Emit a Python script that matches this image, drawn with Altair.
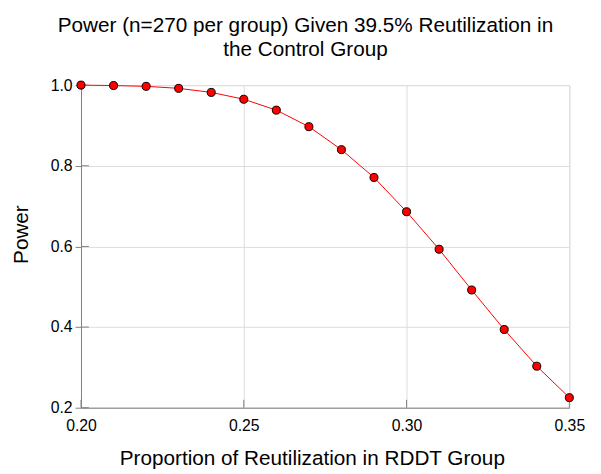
import altair as alt
import pandas as pd

proportion = [0.20, 0.21, 0.22, 0.23, 0.24, 0.25, 0.26, 0.27, 0.28, 0.29, 0.30, 0.31, 0.32, 0.33, 0.34, 0.35]
power = [1.000, 0.999, 0.997, 0.992, 0.982, 0.965, 0.938, 0.897, 0.840, 0.771, 0.686, 0.593, 0.492, 0.394, 0.303, 0.225]
x_ticks = [0.20, 0.25, 0.30, 0.35]
y_ticks = [0.2, 0.4, 0.6, 0.8, 1.0]

df = pd.DataFrame({"p": proportion, "power": power})
xt = pd.DataFrame({"p": x_ticks})
yt = pd.DataFrame({"power": y_ticks})

FONT = "Liberation Sans"
W, H = 495, 327

xscale = alt.Scale(domain=[0.2, 0.35], nice=False, zero=False)
yscale = alt.Scale(domain=[0.2, 1.0], nice=False, zero=False)

x = alt.X("p:Q", scale=xscale,
          axis=alt.Axis(title="Proportion of Reutilization in RDDT Group",
                        values=x_ticks, format=".2f", ticks=False, labelFlush=False,
                        titleX=234, titleY=52, titleBaseline="middle", titleAlign="center",
                        titleFontSize=21, titleFontWeight="normal", titleFont=FONT, titleColor="black",
                        labelFont=FONT, labelFontSize=16, labelColor="black",
                        domainColor="#808080", gridColor="#dcdcdc", labelPadding=10))
y = alt.Y("power:Q", scale=yscale,
          axis=alt.Axis(title="Power", values=y_ticks, format=".1f", labelFlush=False,
                        titleX=-60, titleY=151, titleAngle=-90, titleBaseline="middle", titleAlign="center",
                        titleFontSize=21, titleFontWeight="normal", titleFont=FONT, titleColor="black",
                        labelFont=FONT, labelFontSize=16, labelColor="black",
                        domainColor="#808080", tickColor="#808080", tickSize=6,
                        gridColor="#dcdcdc", labelPadding=3))

line = alt.Chart(df).mark_line(color="red", strokeWidth=1, clip=False).encode(x=x, y=y)
xtick_in = alt.Chart(xt).mark_rule(color="#808080", strokeWidth=1).encode(
    x=x, y=alt.value(H - 8), y2=alt.value(H))
ytick_in = alt.Chart(yt).mark_rule(color="#808080", strokeWidth=1).encode(
    y=y, x=alt.value(0), x2=alt.value(8))
pts = alt.Chart(df).mark_point(filled=True, fill="red", stroke="black", strokeWidth=1,
                               size=66, opacity=1, clip=False).encode(x=x, y=y)

chart = alt.layer(line, xtick_in, ytick_in, pts).properties(
    width=W, height=H,
    autosize=alt.AutoSizeParams(type="none"),
    padding={"left": 74, "top": 75, "right": 24, "bottom": 64},
    title=alt.TitleParams(
        text=["Power (n=270 per group) Given 39.5% Reutilization in", "the Control Group"],
        font=FONT, fontSize=21, fontWeight="normal", anchor="middle", dx=-20,
        offset=18, lineHeight=24, color="black"),
).configure_view(stroke=None).configure(background="white")

chart.save("out.html", embed_options={"renderer": "svg", "actions": False})
